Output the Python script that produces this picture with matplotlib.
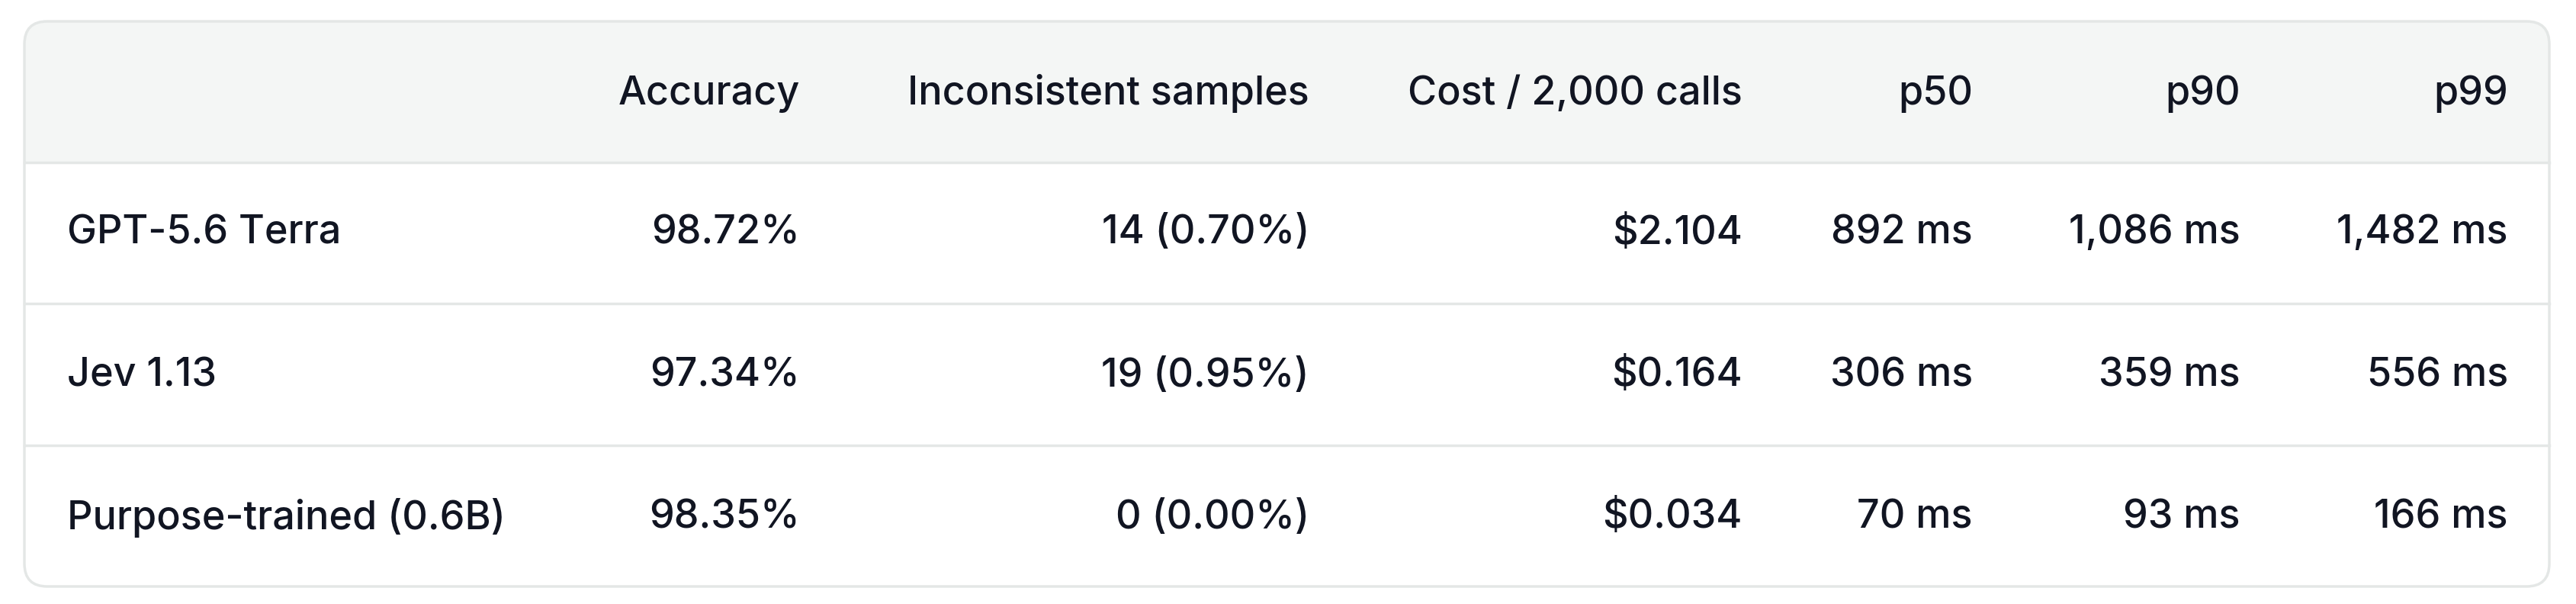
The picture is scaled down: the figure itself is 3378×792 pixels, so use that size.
import matplotlib
matplotlib.use("Agg")
import matplotlib.pyplot as plt
from matplotlib.patches import FancyBboxPatch, Rectangle

headers = ["", "Accuracy", "Inconsistent samples", "Cost / 2,000 calls", "p50", "p90", "p99"]
models = ["GPT-5.6 Terra", "Jev 1.13", "Purpose-trained (0.6B)"]
accuracy = ["98.72%", "97.34%", "98.35%"]
inconsistent = ["14 (0.70%)", "19 (0.95%)", "0 (0.00%)"]
cost = ["$2.104", "$0.164", "$0.034"]
p50 = ["892 ms", "306 ms", "70 ms"]
p90 = ["1,086 ms", "359 ms", "93 ms"]
p99 = ["1,482 ms", "556 ms", "166 ms"]

W, H = 3378, 792
fig = plt.figure(figsize=(W/100, H/100), dpi=100)
ax = fig.add_axes([0, 0, 1, 1])
ax.set_xlim(0, W); ax.set_ylim(H, 0); ax.axis("off")

L, R, T, B = 32, 3343, 28, 769
hb = 213
rad = 30
border = "#e4e7e6"
ax.add_patch(FancyBboxPatch((L, T), R-L, B-T, boxstyle=f"round,pad=0,rounding_size={rad}",
                            fc="white", ec="none", zorder=0))
ax.add_patch(FancyBboxPatch((L, T), R-L, (hb-T)+rad*2, boxstyle=f"round,pad=0,rounding_size={rad}",
                            fc="#f4f6f5", ec="none", zorder=1))
ax.add_patch(Rectangle((L, hb), R-L, B-hb-rad, fc="white", ec="none", zorder=1))
ax.add_patch(FancyBboxPatch((L, hb), R-L, B-hb, boxstyle=f"round,pad=0,rounding_size={rad}",
                            fc="white", ec="none", zorder=1))
ax.add_patch(FancyBboxPatch((L, T), R-L, B-T, boxstyle=f"round,pad=0,rounding_size={rad}",
                            fc="none", ec=border, lw=2.5, zorder=3))
for y in [213, 398, 584]:
    ax.plot([L, R], [y, y], color=border, lw=2.5, zorder=3)

col_x = [88, 1049, 1717, 2285, 2587, 2938, 3289]
row_y = [123, 306, 493, 679]
fs = 37.5
tc = "#111522"
kw = dict(fontsize=fs, color=tc, family=["Inter", "DejaVu Sans"], fontweight="medium",
          va="center", zorder=5)
for j, h in enumerate(headers):
    if h:
        ax.text(col_x[j], row_y[0], h, ha="right", **kw)
cols = [models, accuracy, inconsistent, cost, p50, p90, p99]
for i in range(3):
    for j, c in enumerate(cols):
        ax.text(col_x[j], row_y[i+1], c[i], ha="left" if j == 0 else "right", **kw)

fig.savefig("out.png", dpi=100, facecolor="white")
